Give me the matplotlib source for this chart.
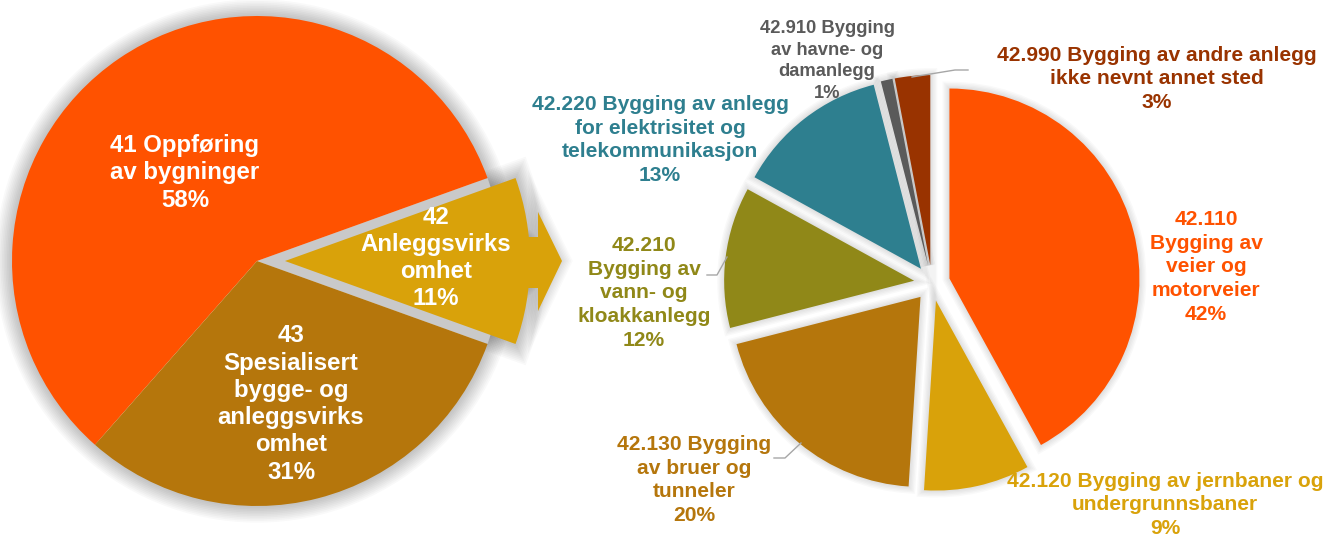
import matplotlib.pyplot as plt
import matplotlib.patches as mpatches

plt.rcParams['font.family'] = ['Liberation Sans', 'DejaVu Sans']

# Venstre kake: hovedgrupper
hoved_navn = ['41 Oppføring\nav bygninger', '42\nAnleggsvirks\nomhet',
              '43\nSpesialisert\nbygge- og\nanleggsvirks\nomhet']
hoved_andel = [58, 11, 31]
hoved_farger = ['#FF5200', '#D9A20A', '#B5760C']

# Høyre kake: undergrupper av 42
under_navn = ['42.110\nBygging av\nveier og\nmotorveier',
              '42.120 Bygging av jernbaner og\nundergrunnsbaner',
              '42.130 Bygging\nav bruer og\ntunneler',
              '42.210\nBygging av\nvann- og\nkloakkanlegg',
              '42.220 Bygging av anlegg\nfor elektrisitet og\ntelekommunikasjon',
              '42.910 Bygging\nav havne- og\ndamanlegg',
              '42.990 Bygging av andre anlegg\nikke nevnt annet sted']
under_andel = [42, 9, 20, 12, 13, 1, 3]
under_farger = ['#FF5200', '#D9A20A', '#B5760C', '#908818', '#2E7F8F', '#5A5A5A', '#993300']

H = 536  # bildehøyde i piksler, y regnes ovenfra

fig = plt.figure(figsize=(13.3, 5.36), dpi=100)
ax = fig.add_axes([0, 0, 1, 1])


def glow(patch, width=16, steps=8, alpha=0.022):
    # myk skygge rundt en figur
    path = patch.get_path().transformed(patch.get_patch_transform())
    for i in range(steps, 0, -1):
        ax.add_patch(mpatches.PathPatch(path, facecolor='none', edgecolor='black',
                                        lw=width * i / steps, alpha=alpha, zorder=0.5))


# venstre kake (explode er i dataenheter = piksler her)
w_venstre, _ = ax.pie(hoved_andel, colors=hoved_farger, startangle=228.6, counterclock=False,
                      center=(257, H - 261), radius=245, explode=[0, 28, 0],
                      wedgeprops=dict(linewidth=0, zorder=2))
glow(mpatches.Circle((257, H - 261), 245), width=24, steps=10, alpha=0.022)
glow(w_venstre[1], width=24, steps=10, alpha=0.022)

# grå skygge i sprekken rundt 42
g = w_venstre[1]
ax.add_patch(mpatches.Wedge((257, H - 261), 245, g.theta1, g.theta2, facecolor='#C9C9C9',
                            lw=0, zorder=1))

# pil fra 42 mot høyre kake
pil = mpatches.Polygon([(515, H - 237), (538, H - 237), (538, H - 212), (562, H - 261),
                        (538, H - 311), (538, H - 288), (515, H - 288)],
                       closed=True, facecolor=hoved_farger[1], lw=0, zorder=2)
ax.add_patch(pil)
glow(pil, width=14, steps=7, alpha=0.02)

hoved_pos = [(185, 173), (436, 258), (291, 404)]
for navn, andel, (x, y) in zip(hoved_navn, hoved_andel, hoved_pos):
    ax.text(x, H - y, f'{navn}\n{andel}%', ha='center', va='center', color='white',
            fontsize=17.3, fontweight='bold', linespacing=1.24, zorder=5)

# høyre kake
w_hoyre, _ = ax.pie(under_andel, colors=under_farger, startangle=90, counterclock=False,
                    center=(932, H - 283), radius=190, explode=[18] * 7,
                    wedgeprops=dict(linewidth=0, zorder=2))
for w in w_hoyre:
    glow(w, width=10, steps=5, alpha=0.025)

under_pos = [(1206, 267), (1165, 505), (694, 480), (644, 293), (660, 140), (827, 61), (1157, 79)]
under_str = [15.1, 15.1, 15.1, 15.1, 15.1, 13.2, 15.1]
under_ls = [1.32, 1.32, 1.32, 1.32, 1.32, 1.36, 1.32]
for navn, andel, (x, y), s, ls, f in zip(under_navn, under_andel, under_pos, under_str,
                                         under_ls, under_farger):
    ax.text(x, H - y, f'{navn}\n{andel}%', ha='center', va='center', color=f,
            fontsize=s, fontweight='bold', linespacing=ls, zorder=5)

# ledelinjer
linjer = [[(912, 77), (955, 70), (968, 70)],
          [(707, 275), (717, 275), (727, 257)],
          [(774, 458), (785, 458), (801, 443)]]
for ln in linjer:
    ax.plot([p[0] for p in ln], [H - p[1] for p in ln], color='#A6A6A6', lw=1, zorder=3)

ax.set_xlim(0, 1330)
ax.set_ylim(0, H)
ax.set_aspect('equal')
ax.axis('off')

fig.savefig('out.png', dpi=100)
